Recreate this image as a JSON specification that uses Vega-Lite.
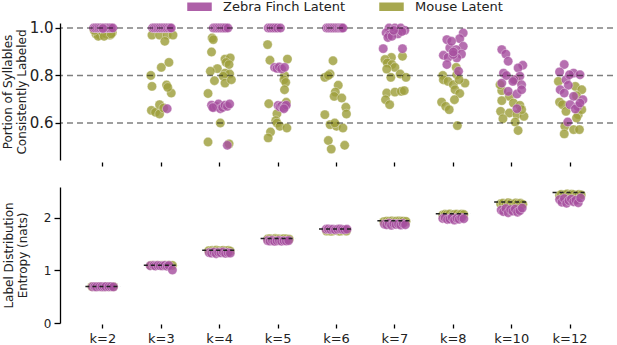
{
  "$schema": "https://vega.github.io/schema/vega-lite/v6.json",
  "padding": {"left": 1, "top": 0, "right": 4, "bottom": 2},
  "background": "white",
  "config": {
    "font": "DejaVu Sans",
    "view": {"stroke": null},
    "axis": {"grid": false, "domainColor": "#000", "tickColor": "#000", "labelColor": "#222", "titleColor": "#222", "titleFontWeight": "normal", "titleFontSize": 12, "domainWidth": 1.3, "tickWidth": 1.3},
    "legend": {"orient": "none", "legendX": 133, "legendY": -23, "direction": "horizontal", "symbolType": "M-2.6,-1H2.6V1H-2.6Z", "symbolSize": 100, "symbolOpacity": 0.9, "symbolStrokeColor": "#ffffff", "symbolStrokeWidth": 1.5, "labelFontSize": 13, "labelColor": "#222", "labelOffset": 17, "columnPadding": 29, "padding": 0}
  },
  "datasets": {
    "top": [
      {"k":"k=2","g":"m","v":0.975,"j":-0.12},{"k":"k=2","g":"m","v":0.97,"j":-0.05},{"k":"k=2","g":"m","v":0.965,"j":-0.08},{"k":"k=2","g":"m","v":0.98,"j":0.0},{"k":"k=2","g":"m","v":0.975,"j":0.06},{"k":"k=2","g":"m","v":0.97,"j":0.12},{"k":"k=2","g":"m","v":0.98,"j":0.16},{"k":"k=2","g":"m","v":0.99,"j":-0.15},{"k":"k=2","g":"m","v":0.985,"j":0.1},{"k":"k=2","g":"m","v":0.99,"j":0.03},{"k":"k=2","g":"m","v":0.965,"j":0.02},{"k":"k=2","g":"m","v":0.975,"j":0.14},
      {"k":"k=3","g":"m","v":0.97,"j":-0.16},{"k":"k=3","g":"m","v":0.97,"j":-0.03},{"k":"k=3","g":"m","v":0.97,"j":0.1},{"k":"k=3","g":"m","v":0.97,"j":0.2},{"k":"k=3","g":"m","v":0.944,"j":0.06},{"k":"k=3","g":"m","v":0.834,"j":0.0},{"k":"k=3","g":"m","v":0.855,"j":0.13},{"k":"k=3","g":"m","v":0.8,"j":-0.18},{"k":"k=3","g":"m","v":0.754,"j":-0.16},{"k":"k=3","g":"m","v":0.76,"j":0.09},{"k":"k=3","g":"m","v":0.726,"j":0.17},{"k":"k=3","g":"m","v":0.75,"j":0.11},{"k":"k=3","g":"m","v":0.653,"j":-0.17},{"k":"k=3","g":"m","v":0.645,"j":-0.1},{"k":"k=3","g":"m","v":0.677,"j":-0.03},{"k":"k=3","g":"m","v":0.638,"j":-0.03},{"k":"k=3","g":"m","v":0.663,"j":0.04},
      {"k":"k=4","g":"m","v":0.958,"j":-0.13},{"k":"k=4","g":"m","v":0.951,"j":-0.11},{"k":"k=4","g":"m","v":0.899,"j":-0.14},{"k":"k=4","g":"m","v":0.869,"j":0.09},{"k":"k=4","g":"m","v":0.874,"j":0.18},{"k":"k=4","g":"m","v":0.855,"j":0.11},{"k":"k=4","g":"m","v":0.846,"j":0.16},{"k":"k=4","g":"m","v":0.829,"j":-0.04},{"k":"k=4","g":"m","v":0.818,"j":-0.16},{"k":"k=4","g":"m","v":0.81,"j":0.09},{"k":"k=4","g":"m","v":0.806,"j":0.17},{"k":"k=4","g":"m","v":0.797,"j":0.06},{"k":"k=4","g":"m","v":0.778,"j":-0.09},{"k":"k=4","g":"m","v":0.768,"j":0.09},{"k":"k=4","g":"m","v":0.782,"j":0.2},{"k":"k=4","g":"m","v":0.724,"j":-0.2},{"k":"k=4","g":"m","v":0.6,"j":0.01},{"k":"k=4","g":"m","v":0.52,"j":-0.2},{"k":"k=4","g":"m","v":0.512,"j":0.16},
      {"k":"k=5","g":"m","v":0.93,"j":-0.18},{"k":"k=5","g":"m","v":0.864,"j":-0.14},{"k":"k=5","g":"m","v":0.869,"j":0.16},{"k":"k=5","g":"m","v":0.8,"j":0.11},{"k":"k=5","g":"m","v":0.782,"j":0.1},{"k":"k=5","g":"m","v":0.771,"j":0.13},{"k":"k=5","g":"m","v":0.74,"j":0.11},{"k":"k=5","g":"m","v":0.681,"j":-0.16},{"k":"k=5","g":"m","v":0.639,"j":-0.02},{"k":"k=5","g":"m","v":0.61,"j":-0.04},{"k":"k=5","g":"m","v":0.6,"j":-0.02},{"k":"k=5","g":"m","v":0.586,"j":0.03},{"k":"k=5","g":"m","v":0.579,"j":0.15},{"k":"k=5","g":"m","v":0.562,"j":-0.13},{"k":"k=5","g":"m","v":0.537,"j":-0.17},{"k":"k=5","g":"m","v":0.687,"j":0.14},
      {"k":"k=6","g":"m","v":0.862,"j":-0.06},{"k":"k=6","g":"m","v":0.806,"j":-0.11},{"k":"k=6","g":"m","v":0.792,"j":-0.2},{"k":"k=6","g":"m","v":0.8,"j":-0.14},{"k":"k=6","g":"m","v":0.759,"j":0.03},{"k":"k=6","g":"m","v":0.73,"j":-0.02},{"k":"k=6","g":"m","v":0.712,"j":-0.04},{"k":"k=6","g":"m","v":0.705,"j":0.09},{"k":"k=6","g":"m","v":0.666,"j":0.16},{"k":"k=6","g":"m","v":0.638,"j":0.17},{"k":"k=6","g":"m","v":0.635,"j":-0.2},{"k":"k=6","g":"m","v":0.593,"j":-0.11},{"k":"k=6","g":"m","v":0.586,"j":0.0},{"k":"k=6","g":"m","v":0.579,"j":0.11},{"k":"k=6","g":"m","v":0.6,"j":-0.03},{"k":"k=6","g":"m","v":0.526,"j":-0.14},{"k":"k=6","g":"m","v":0.49,"j":-0.09},{"k":"k=6","g":"m","v":0.506,"j":0.14},
      {"k":"k=7","g":"m","v":0.881,"j":0.13},{"k":"k=7","g":"m","v":0.876,"j":-0.06},{"k":"k=7","g":"m","v":0.867,"j":-0.17},{"k":"k=7","g":"m","v":0.853,"j":-0.13},{"k":"k=7","g":"m","v":0.846,"j":-0.05},{"k":"k=7","g":"m","v":0.834,"j":0.0},{"k":"k=7","g":"m","v":0.827,"j":-0.14},{"k":"k=7","g":"m","v":0.806,"j":0.09},{"k":"k=7","g":"m","v":0.792,"j":-0.07},{"k":"k=7","g":"m","v":0.792,"j":0.19},{"k":"k=7","g":"m","v":0.726,"j":-0.14},{"k":"k=7","g":"m","v":0.73,"j":0.0},{"k":"k=7","g":"m","v":0.733,"j":0.11},{"k":"k=7","g":"m","v":0.736,"j":0.16},{"k":"k=7","g":"m","v":0.698,"j":-0.16},{"k":"k=7","g":"m","v":0.677,"j":-0.09},
      {"k":"k=8","g":"m","v":0.834,"j":0.05},{"k":"k=8","g":"m","v":0.8,"j":-0.18},{"k":"k=8","g":"m","v":0.782,"j":-0.17},{"k":"k=8","g":"m","v":0.775,"j":-0.09},{"k":"k=8","g":"m","v":0.761,"j":0.0},{"k":"k=8","g":"m","v":0.768,"j":0.2},{"k":"k=8","g":"m","v":0.74,"j":0.03},{"k":"k=8","g":"m","v":0.724,"j":0.11},{"k":"k=8","g":"m","v":0.698,"j":0.02},{"k":"k=8","g":"m","v":0.688,"j":-0.2},{"k":"k=8","g":"m","v":0.67,"j":-0.13},{"k":"k=8","g":"m","v":0.656,"j":-0.07},{"k":"k=8","g":"m","v":0.589,"j":0.07},{"k":"k=8","g":"m","v":0.803,"j":0.06},{"k":"k=8","g":"m","v":0.782,"j":0.1},
      {"k":"k=10","g":"m","v":0.736,"j":-0.17},{"k":"k=10","g":"m","v":0.712,"j":-0.04},{"k":"k=10","g":"m","v":0.694,"j":-0.17},{"k":"k=10","g":"m","v":0.684,"j":0.03},{"k":"k=10","g":"m","v":0.674,"j":0.14},{"k":"k=10","g":"m","v":0.649,"j":-0.19},{"k":"k=10","g":"m","v":0.642,"j":-0.04},{"k":"k=10","g":"m","v":0.635,"j":0.09},{"k":"k=10","g":"m","v":0.628,"j":0.21},{"k":"k=10","g":"m","v":0.618,"j":-0.15},{"k":"k=10","g":"m","v":0.604,"j":0.06},{"k":"k=10","g":"m","v":0.568,"j":0.11},{"k":"k=10","g":"m","v":0.782,"j":0.07},{"k":"k=10","g":"m","v":0.656,"j":0.17},{"k":"k=10","g":"m","v":0.761,"j":-0.2},
      {"k":"k=12","g":"m","v":0.775,"j":-0.2},{"k":"k=12","g":"m","v":0.754,"j":0.09},{"k":"k=12","g":"m","v":0.74,"j":0.2},{"k":"k=12","g":"m","v":0.688,"j":-0.18},{"k":"k=12","g":"m","v":0.677,"j":-0.13},{"k":"k=12","g":"m","v":0.649,"j":-0.07},{"k":"k=12","g":"m","v":0.635,"j":0.14},{"k":"k=12","g":"m","v":0.621,"j":0.11},{"k":"k=12","g":"m","v":0.586,"j":-0.09},{"k":"k=12","g":"m","v":0.572,"j":0.06},{"k":"k=12","g":"m","v":0.572,"j":0.16},{"k":"k=12","g":"m","v":0.554,"j":-0.1},{"k":"k=12","g":"m","v":0.715,"j":0.11},{"k":"k=12","g":"m","v":0.656,"j":0.2},
      {"k":"k=2","g":"z","v":1.0,"j":-0.16},{"k":"k=2","g":"z","v":1.0,"j":-0.13},{"k":"k=2","g":"z","v":1.0,"j":-0.1},{"k":"k=2","g":"z","v":1.0,"j":-0.07},{"k":"k=2","g":"z","v":1.0,"j":-0.04},{"k":"k=2","g":"z","v":1.0,"j":-0.01},{"k":"k=2","g":"z","v":1.0,"j":0.02},{"k":"k=2","g":"z","v":1.0,"j":0.05},{"k":"k=2","g":"z","v":1.0,"j":0.08},{"k":"k=2","g":"z","v":1.0,"j":0.11},{"k":"k=2","g":"z","v":1.0,"j":0.14},{"k":"k=2","g":"z","v":1.0,"j":0.17},{"k":"k=2","g":"z","v":0.998,"j":0.0},
      {"k":"k=3","g":"z","v":1.0,"j":-0.15},{"k":"k=3","g":"z","v":1.0,"j":-0.12},{"k":"k=3","g":"z","v":1.0,"j":-0.09},{"k":"k=3","g":"z","v":1.0,"j":-0.06},{"k":"k=3","g":"z","v":1.0,"j":-0.03},{"k":"k=3","g":"z","v":1.0,"j":0.0},{"k":"k=3","g":"z","v":1.0,"j":0.03},{"k":"k=3","g":"z","v":1.0,"j":0.06},{"k":"k=3","g":"z","v":1.0,"j":0.09},{"k":"k=3","g":"z","v":1.0,"j":0.12},{"k":"k=3","g":"z","v":1.0,"j":0.15},{"k":"k=3","g":"z","v":1.0,"j":0.17},{"k":"k=3","g":"z","v":0.66,"j":0.1},
      {"k":"k=4","g":"z","v":1.0,"j":-0.11},{"k":"k=4","g":"z","v":1.0,"j":-0.08},{"k":"k=4","g":"z","v":1.0,"j":-0.05},{"k":"k=4","g":"z","v":1.0,"j":-0.02},{"k":"k=4","g":"z","v":1.0,"j":0.01},{"k":"k=4","g":"z","v":1.0,"j":0.04},{"k":"k=4","g":"z","v":1.0,"j":0.07},{"k":"k=4","g":"z","v":1.0,"j":0.1},{"k":"k=4","g":"z","v":1.0,"j":0.14},{"k":"k=4","g":"z","v":0.675,"j":-0.14},{"k":"k=4","g":"z","v":0.665,"j":-0.1},{"k":"k=4","g":"z","v":0.67,"j":-0.06},{"k":"k=4","g":"z","v":0.68,"j":-0.02},{"k":"k=4","g":"z","v":0.66,"j":0.01},{"k":"k=4","g":"z","v":0.665,"j":0.05},{"k":"k=4","g":"z","v":0.675,"j":0.09},{"k":"k=4","g":"z","v":0.67,"j":0.13},{"k":"k=4","g":"z","v":0.68,"j":0.17},{"k":"k=4","g":"z","v":0.665,"j":-0.12},{"k":"k=4","g":"z","v":0.506,"j":0.13},
      {"k":"k=5","g":"z","v":1.0,"j":-0.17},{"k":"k=5","g":"z","v":1.0,"j":-0.13},{"k":"k=5","g":"z","v":1.0,"j":-0.09},{"k":"k=5","g":"z","v":1.0,"j":-0.05},{"k":"k=5","g":"z","v":1.0,"j":-0.01},{"k":"k=5","g":"z","v":1.0,"j":0.04},{"k":"k=5","g":"z","v":0.834,"j":-0.06},{"k":"k=5","g":"z","v":0.83,"j":-0.02},{"k":"k=5","g":"z","v":0.836,"j":0.02},{"k":"k=5","g":"z","v":0.828,"j":0.06},{"k":"k=5","g":"z","v":0.834,"j":0.11},{"k":"k=5","g":"z","v":0.674,"j":0.0},{"k":"k=5","g":"z","v":0.668,"j":0.03},{"k":"k=5","g":"z","v":0.672,"j":0.06},{"k":"k=5","g":"z","v":0.665,"j":0.09},{"k":"k=5","g":"z","v":0.67,"j":0.12},{"k":"k=5","g":"z","v":0.675,"j":0.14},{"k":"k=5","g":"z","v":0.66,"j":0.1},
      {"k":"k=6","g":"z","v":1.0,"j":-0.17},{"k":"k=6","g":"z","v":1.0,"j":-0.14},{"k":"k=6","g":"z","v":1.0,"j":-0.11},{"k":"k=6","g":"z","v":1.0,"j":-0.08},{"k":"k=6","g":"z","v":1.0,"j":-0.05},{"k":"k=6","g":"z","v":1.0,"j":-0.02},{"k":"k=6","g":"z","v":1.0,"j":0.01},{"k":"k=6","g":"z","v":1.0,"j":0.04},{"k":"k=6","g":"z","v":1.0,"j":0.07},{"k":"k=6","g":"z","v":1.0,"j":0.09},{"k":"k=6","g":"z","v":1.0,"j":0.11},
      {"k":"k=7","g":"z","v":1.0,"j":-0.1},{"k":"k=7","g":"z","v":1.0,"j":0.0},{"k":"k=7","g":"z","v":1.0,"j":0.1},{"k":"k=7","g":"z","v":0.99,"j":0.17},{"k":"k=7","g":"z","v":0.98,"j":-0.15},{"k":"k=7","g":"z","v":0.97,"j":-0.1},{"k":"k=7","g":"z","v":0.975,"j":0.05},{"k":"k=7","g":"z","v":0.96,"j":-0.12},{"k":"k=7","g":"z","v":0.965,"j":-0.05},{"k":"k=7","g":"z","v":0.985,"j":0.12},{"k":"k=7","g":"z","v":0.99,"j":-0.02},{"k":"k=7","g":"z","v":0.913,"j":-0.2},{"k":"k=7","g":"z","v":0.913,"j":0.13},
      {"k":"k=8","g":"z","v":0.979,"j":0.17},{"k":"k=8","g":"z","v":0.951,"j":-0.11},{"k":"k=8","g":"z","v":0.955,"j":0.11},{"k":"k=8","g":"z","v":0.923,"j":0.17},{"k":"k=8","g":"z","v":0.916,"j":-0.06},{"k":"k=8","g":"z","v":0.909,"j":0.05},{"k":"k=8","g":"z","v":0.89,"j":0.14},{"k":"k=8","g":"z","v":0.885,"j":-0.17},{"k":"k=8","g":"z","v":0.876,"j":-0.09},{"k":"k=8","g":"z","v":0.874,"j":0.06},{"k":"k=8","g":"z","v":0.846,"j":-0.11},{"k":"k=8","g":"z","v":0.888,"j":0.0},{"k":"k=8","g":"z","v":0.818,"j":0.09},{"k":"k=8","g":"z","v":0.899,"j":0.0},{"k":"k=8","g":"z","v":0.944,"j":-0.03},
      {"k":"k=10","g":"z","v":0.909,"j":-0.17},{"k":"k=10","g":"z","v":0.89,"j":-0.1},{"k":"k=10","g":"z","v":0.86,"j":-0.06},{"k":"k=10","g":"z","v":0.843,"j":0.19},{"k":"k=10","g":"z","v":0.832,"j":0.11},{"k":"k=10","g":"z","v":0.81,"j":-0.14},{"k":"k=10","g":"z","v":0.797,"j":0.14},{"k":"k=10","g":"z","v":0.782,"j":0.04},{"k":"k=10","g":"z","v":0.768,"j":-0.17},{"k":"k=10","g":"z","v":0.775,"j":0.02},{"k":"k=10","g":"z","v":0.761,"j":0.17},{"k":"k=10","g":"z","v":0.733,"j":-0.06},{"k":"k=10","g":"z","v":0.722,"j":0.09},{"k":"k=10","g":"z","v":0.66,"j":0.09},{"k":"k=10","g":"z","v":0.8,"j":-0.09},{"k":"k=10","g":"z","v":0.74,"j":0.17},
      {"k":"k=12","g":"z","v":0.846,"j":-0.1},{"k":"k=12","g":"z","v":0.815,"j":-0.18},{"k":"k=12","g":"z","v":0.81,"j":0.06},{"k":"k=12","g":"z","v":0.803,"j":0.17},{"k":"k=12","g":"z","v":0.782,"j":-0.07},{"k":"k=12","g":"z","v":0.759,"j":-0.03},{"k":"k=12","g":"z","v":0.74,"j":-0.17},{"k":"k=12","g":"z","v":0.726,"j":-0.1},{"k":"k=12","g":"z","v":0.712,"j":0.06},{"k":"k=12","g":"z","v":0.698,"j":0.22},{"k":"k=12","g":"z","v":0.677,"j":0.0},{"k":"k=12","g":"z","v":0.67,"j":0.13},{"k":"k=12","g":"z","v":0.659,"j":0.09},{"k":"k=12","g":"z","v":0.604,"j":-0.04},{"k":"k=12","g":"z","v":0.803,"j":-0.01},{"k":"k=12","g":"z","v":0.684,"j":0.17}
    ],
    "bot": [
      {"k":"k=2","g":"m","v":0.693,"j":-0.19},{"k":"k=2","g":"m","v":0.693,"j":-0.14},{"k":"k=2","g":"m","v":0.693,"j":-0.1},{"k":"k=2","g":"m","v":0.693,"j":-0.05},{"k":"k=2","g":"m","v":0.693,"j":-0.02},{"k":"k=2","g":"m","v":0.693,"j":0.03},{"k":"k=2","g":"m","v":0.693,"j":0.06},{"k":"k=2","g":"m","v":0.693,"j":0.1},{"k":"k=2","g":"m","v":0.693,"j":0.13},{"k":"k=2","g":"m","v":0.693,"j":0.18},
      {"k":"k=3","g":"m","v":1.098,"j":-0.18},{"k":"k=3","g":"m","v":1.098,"j":-0.15},{"k":"k=3","g":"m","v":1.097,"j":-0.09},{"k":"k=3","g":"m","v":1.098,"j":-0.06},{"k":"k=3","g":"m","v":1.096,"j":-0.01},{"k":"k=3","g":"m","v":1.098,"j":0.02},{"k":"k=3","g":"m","v":1.098,"j":0.07},{"k":"k=3","g":"m","v":1.097,"j":0.11},{"k":"k=3","g":"m","v":1.098,"j":0.14},{"k":"k=3","g":"m","v":1.098,"j":0.19},
      {"k":"k=4","g":"m","v":1.375,"j":-0.19},{"k":"k=4","g":"m","v":1.38,"j":-0.13},{"k":"k=4","g":"m","v":1.37,"j":-0.1},{"k":"k=4","g":"m","v":1.385,"j":-0.06},{"k":"k=4","g":"m","v":1.378,"j":-0.01},{"k":"k=4","g":"m","v":1.372,"j":0.03},{"k":"k=4","g":"m","v":1.383,"j":0.06},{"k":"k=4","g":"m","v":1.376,"j":0.11},{"k":"k=4","g":"m","v":1.381,"j":0.15},{"k":"k=4","g":"m","v":1.368,"j":0.18},
      {"k":"k=5","g":"m","v":1.6,"j":-0.18},{"k":"k=5","g":"m","v":1.605,"j":-0.14},{"k":"k=5","g":"m","v":1.595,"j":-0.11},{"k":"k=5","g":"m","v":1.608,"j":-0.05},{"k":"k=5","g":"m","v":1.6,"j":-0.02},{"k":"k=5","g":"m","v":1.602,"j":0.02},{"k":"k=5","g":"m","v":1.598,"j":0.07},{"k":"k=5","g":"m","v":1.606,"j":0.1},{"k":"k=5","g":"m","v":1.603,"j":0.14},{"k":"k=5","g":"m","v":1.597,"j":0.19},
      {"k":"k=6","g":"m","v":1.75,"j":-0.17},{"k":"k=6","g":"m","v":1.76,"j":-0.14},{"k":"k=6","g":"m","v":1.745,"j":-0.09},{"k":"k=6","g":"m","v":1.755,"j":-0.06},{"k":"k=6","g":"m","v":1.765,"j":-0.02},{"k":"k=6","g":"m","v":1.752,"j":0.03},{"k":"k=6","g":"m","v":1.748,"j":0.06},{"k":"k=6","g":"m","v":1.758,"j":0.1},{"k":"k=6","g":"m","v":1.762,"j":0.15},{"k":"k=6","g":"m","v":1.75,"j":0.17},
      {"k":"k=7","g":"m","v":1.93,"j":-0.19},{"k":"k=7","g":"m","v":1.94,"j":-0.14},{"k":"k=7","g":"m","v":1.935,"j":-0.1},{"k":"k=7","g":"m","v":1.945,"j":-0.05},{"k":"k=7","g":"m","v":1.928,"j":-0.02},{"k":"k=7","g":"m","v":1.938,"j":0.02},{"k":"k=7","g":"m","v":1.942,"j":0.07},{"k":"k=7","g":"m","v":1.932,"j":0.1},{"k":"k=7","g":"m","v":1.94,"j":0.14},{"k":"k=7","g":"m","v":1.936,"j":0.19},
      {"k":"k=8","g":"m","v":2.06,"j":-0.18},{"k":"k=8","g":"m","v":2.07,"j":-0.14},{"k":"k=8","g":"m","v":2.065,"j":-0.11},{"k":"k=8","g":"m","v":2.075,"j":-0.06},{"k":"k=8","g":"m","v":2.058,"j":-0.01},{"k":"k=8","g":"m","v":2.068,"j":0.02},{"k":"k=8","g":"m","v":2.072,"j":0.06},{"k":"k=8","g":"m","v":2.062,"j":0.11},{"k":"k=8","g":"m","v":2.07,"j":0.14},{"k":"k=8","g":"m","v":2.066,"j":0.18},
      {"k":"k=10","g":"m","v":2.27,"j":-0.19},{"k":"k=10","g":"m","v":2.28,"j":-0.15},{"k":"k=10","g":"m","v":2.26,"j":-0.1},{"k":"k=10","g":"m","v":2.29,"j":-0.06},{"k":"k=10","g":"m","v":2.275,"j":-0.02},{"k":"k=10","g":"m","v":2.265,"j":0.03},{"k":"k=10","g":"m","v":2.285,"j":0.07},{"k":"k=10","g":"m","v":2.27,"j":0.1},{"k":"k=10","g":"m","v":2.28,"j":0.15},{"k":"k=10","g":"m","v":2.26,"j":0.19},
      {"k":"k=12","g":"m","v":2.43,"j":-0.18},{"k":"k=12","g":"m","v":2.45,"j":-0.15},{"k":"k=12","g":"m","v":2.44,"j":-0.1},{"k":"k=12","g":"m","v":2.46,"j":-0.05},{"k":"k=12","g":"m","v":2.435,"j":-0.01},{"k":"k=12","g":"m","v":2.455,"j":0.03},{"k":"k=12","g":"m","v":2.445,"j":0.06},{"k":"k=12","g":"m","v":2.43,"j":0.11},{"k":"k=12","g":"m","v":2.45,"j":0.15},{"k":"k=12","g":"m","v":2.44,"j":0.19},
      {"k":"k=2","g":"z","v":0.69,"j":-0.18},{"k":"k=2","g":"z","v":0.692,"j":-0.14},{"k":"k=2","g":"z","v":0.688,"j":-0.11},{"k":"k=2","g":"z","v":0.693,"j":-0.06},{"k":"k=2","g":"z","v":0.691,"j":-0.02},{"k":"k=2","g":"z","v":0.689,"j":0.02},{"k":"k=2","g":"z","v":0.693,"j":0.05},{"k":"k=2","g":"z","v":0.69,"j":0.1},{"k":"k=2","g":"z","v":0.692,"j":0.14},{"k":"k=2","g":"z","v":0.687,"j":0.18},
      {"k":"k=3","g":"z","v":1.09,"j":-0.19},{"k":"k=3","g":"z","v":1.095,"j":-0.13},{"k":"k=3","g":"z","v":1.085,"j":-0.1},{"k":"k=3","g":"z","v":1.098,"j":-0.06},{"k":"k=3","g":"z","v":1.092,"j":-0.02},{"k":"k=3","g":"z","v":1.088,"j":0.02},{"k":"k=3","g":"z","v":1.096,"j":0.06},{"k":"k=3","g":"z","v":1.08,"j":0.1},{"k":"k=3","g":"z","v":1.094,"j":0.13},{"k":"k=3","g":"z","v":1.01,"j":0.19},
      {"k":"k=4","g":"z","v":1.34,"j":-0.18},{"k":"k=4","g":"z","v":1.33,"j":-0.14},{"k":"k=4","g":"z","v":1.35,"j":-0.1},{"k":"k=4","g":"z","v":1.32,"j":-0.06},{"k":"k=4","g":"z","v":1.345,"j":-0.02},{"k":"k=4","g":"z","v":1.335,"j":0.02},{"k":"k=4","g":"z","v":1.355,"j":0.06},{"k":"k=4","g":"z","v":1.325,"j":0.1},{"k":"k=4","g":"z","v":1.34,"j":0.14},{"k":"k=4","g":"z","v":1.33,"j":0.18},
      {"k":"k=5","g":"z","v":1.57,"j":-0.18},{"k":"k=5","g":"z","v":1.56,"j":-0.14},{"k":"k=5","g":"z","v":1.575,"j":-0.1},{"k":"k=5","g":"z","v":1.555,"j":-0.06},{"k":"k=5","g":"z","v":1.565,"j":-0.02},{"k":"k=5","g":"z","v":1.572,"j":0.02},{"k":"k=5","g":"z","v":1.558,"j":0.06},{"k":"k=5","g":"z","v":1.568,"j":0.1},{"k":"k=5","g":"z","v":1.562,"j":0.14},{"k":"k=5","g":"z","v":1.57,"j":0.18},
      {"k":"k=6","g":"z","v":1.785,"j":-0.18},{"k":"k=6","g":"z","v":1.79,"j":-0.14},{"k":"k=6","g":"z","v":1.78,"j":-0.1},{"k":"k=6","g":"z","v":1.788,"j":-0.06},{"k":"k=6","g":"z","v":1.775,"j":-0.02},{"k":"k=6","g":"z","v":1.785,"j":0.02},{"k":"k=6","g":"z","v":1.79,"j":0.06},{"k":"k=6","g":"z","v":1.782,"j":0.1},{"k":"k=6","g":"z","v":1.778,"j":0.14},{"k":"k=6","g":"z","v":1.786,"j":0.18},
      {"k":"k=7","g":"z","v":1.88,"j":-0.18},{"k":"k=7","g":"z","v":1.87,"j":-0.14},{"k":"k=7","g":"z","v":1.9,"j":-0.1},{"k":"k=7","g":"z","v":1.86,"j":-0.06},{"k":"k=7","g":"z","v":1.89,"j":-0.02},{"k":"k=7","g":"z","v":1.875,"j":0.02},{"k":"k=7","g":"z","v":1.885,"j":0.06},{"k":"k=7","g":"z","v":1.865,"j":0.1},{"k":"k=7","g":"z","v":1.895,"j":0.14},{"k":"k=7","g":"z","v":1.87,"j":0.18},
      {"k":"k=8","g":"z","v":1.99,"j":-0.18},{"k":"k=8","g":"z","v":2.0,"j":-0.14},{"k":"k=8","g":"z","v":1.97,"j":-0.1},{"k":"k=8","g":"z","v":1.98,"j":-0.06},{"k":"k=8","g":"z","v":2.01,"j":-0.02},{"k":"k=8","g":"z","v":1.96,"j":0.02},{"k":"k=8","g":"z","v":1.995,"j":0.06},{"k":"k=8","g":"z","v":1.975,"j":0.1},{"k":"k=8","g":"z","v":2.005,"j":0.14},{"k":"k=8","g":"z","v":1.985,"j":0.18},
      {"k":"k=10","g":"z","v":2.15,"j":-0.18},{"k":"k=10","g":"z","v":2.12,"j":-0.14},{"k":"k=10","g":"z","v":2.18,"j":-0.1},{"k":"k=10","g":"z","v":2.1,"j":-0.06},{"k":"k=10","g":"z","v":2.16,"j":-0.02},{"k":"k=10","g":"z","v":2.13,"j":0.02},{"k":"k=10","g":"z","v":2.17,"j":0.06},{"k":"k=10","g":"z","v":2.11,"j":0.1},{"k":"k=10","g":"z","v":2.14,"j":0.14},{"k":"k=10","g":"z","v":2.19,"j":0.18},
      {"k":"k=12","g":"z","v":2.35,"j":-0.18},{"k":"k=12","g":"z","v":2.3,"j":-0.14},{"k":"k=12","g":"z","v":2.37,"j":-0.1},{"k":"k=12","g":"z","v":2.28,"j":-0.06},{"k":"k=12","g":"z","v":2.33,"j":-0.02},{"k":"k=12","g":"z","v":2.36,"j":0.02},{"k":"k=12","g":"z","v":2.31,"j":0.06},{"k":"k=12","g":"z","v":2.34,"j":0.1},{"k":"k=12","g":"z","v":2.29,"j":0.14},{"k":"k=12","g":"z","v":2.38,"j":0.18}
    ],
    "ent": [
      {"k":"k=2","h":0.693},{"k":"k=3","h":1.099},{"k":"k=4","h":1.386},{"k":"k=5","h":1.609},{"k":"k=6","h":1.792},{"k":"k=7","h":1.946},{"k":"k=8","h":2.079},{"k":"k=10","h":2.303},{"k":"k=12","h":2.485}
    ],
    "grid": [{"y":0.6},{"y":0.8},{"y":1.0}]
  },
  "spacing": 20,
  "vconcat": [
    {
      "width": 553,
      "height": 137,
      "layer": [
        {
          "data": {"name": "top"},
          "mark": {"type": "circle", "size": 88, "fillOpacity": 0.82, "stroke": "#ffffff", "strokeWidth": 1, "strokeOpacity": 0.35},
          "encoding": {
            "x": {"field": "k", "type": "nominal", "scale": {"type": "band", "domain": ["k=2","k=3","k=4","k=5","k=6","k=7","k=8","k=10","k=12"], "paddingInner": 0, "paddingOuter": 0.235}, "axis": {"title": null, "labels": false, "domain": false, "tickSize": 4, "offset": 2}},
            "xOffset": {"field": "j", "type": "quantitative", "scale": {"domain": [-0.5, 0.5]}},
            "y": {"field": "v", "type": "quantitative", "scale": {"domain": [0.444, 1.021], "nice": false, "zero": false}, "axis": {"values": [0.6, 0.8, 1.0], "format": ".1f", "labelFontSize": 15, "tickSize": 5, "labelPadding": 2, "title": ["Portion of Syllables", "Consistently Labeled"], "titlePadding": 1}},
            "color": {"field": "g", "type": "nominal", "scale": {"domain": ["z", "m"], "range": ["#a64f9f", "#9e9f3c"]}, "legend": {"title": null, "labelExpr": "datum.label == 'z' ? 'Zebra Finch Latent' : 'Mouse Latent'"}}
          }
        },
        {
          "data": {"name": "grid"},
          "mark": {"type": "rule", "color": "#000000", "opacity": 0.5, "strokeWidth": 1.5, "strokeDash": [6, 4]},
          "encoding": {"y": {"field": "y", "type": "quantitative"}}
        }
      ]
    },
    {
      "width": 553,
      "height": 136,
      "layer": [
        {
          "data": {"name": "bot"},
          "mark": {"type": "circle", "size": 88, "fillOpacity": 0.82, "stroke": "#ffffff", "strokeWidth": 1, "strokeOpacity": 0.35},
          "encoding": {
            "x": {"field": "k", "type": "nominal", "scale": {"type": "band", "domain": ["k=2","k=3","k=4","k=5","k=6","k=7","k=8","k=10","k=12"], "paddingInner": 0, "paddingOuter": 0.235}, "axis": {"title": null, "labelAngle": 0, "labelFontSize": 13, "labelPadding": 4, "domain": false, "tickSize": 4, "offset": 1}},
            "xOffset": {"field": "j", "type": "quantitative", "scale": {"domain": [-0.5, 0.5]}},
            "y": {"field": "v", "type": "quantitative", "scale": {"domain": [0, 2.59], "nice": false}, "axis": {"values": [0, 1, 2], "format": "d", "labelFontSize": 12, "tickSize": 6, "labelPadding": 3, "title": ["Label Distribution", "Entropy (nats)"], "titlePadding": 14}},
            "color": {"field": "g", "type": "nominal", "scale": {"domain": ["z", "m"], "range": ["#a64f9f", "#9e9f3c"]}, "legend": {"title": null, "labelExpr": "datum.label == 'z' ? 'Zebra Finch Latent' : 'Mouse Latent'"}}
          }
        },
        {
          "data": {"name": "ent"},
          "mark": {"type": "rule", "color": "#222222", "strokeWidth": 1.5, "strokeDash": [4, 3]},
          "encoding": {
            "x": {"field": "k", "type": "nominal", "bandPosition": 0.2},
            "x2": {"field": "k", "bandPosition": 0.8},
            "y": {"field": "h", "type": "quantitative"}
          }
        }
      ]
    }
  ]
}
